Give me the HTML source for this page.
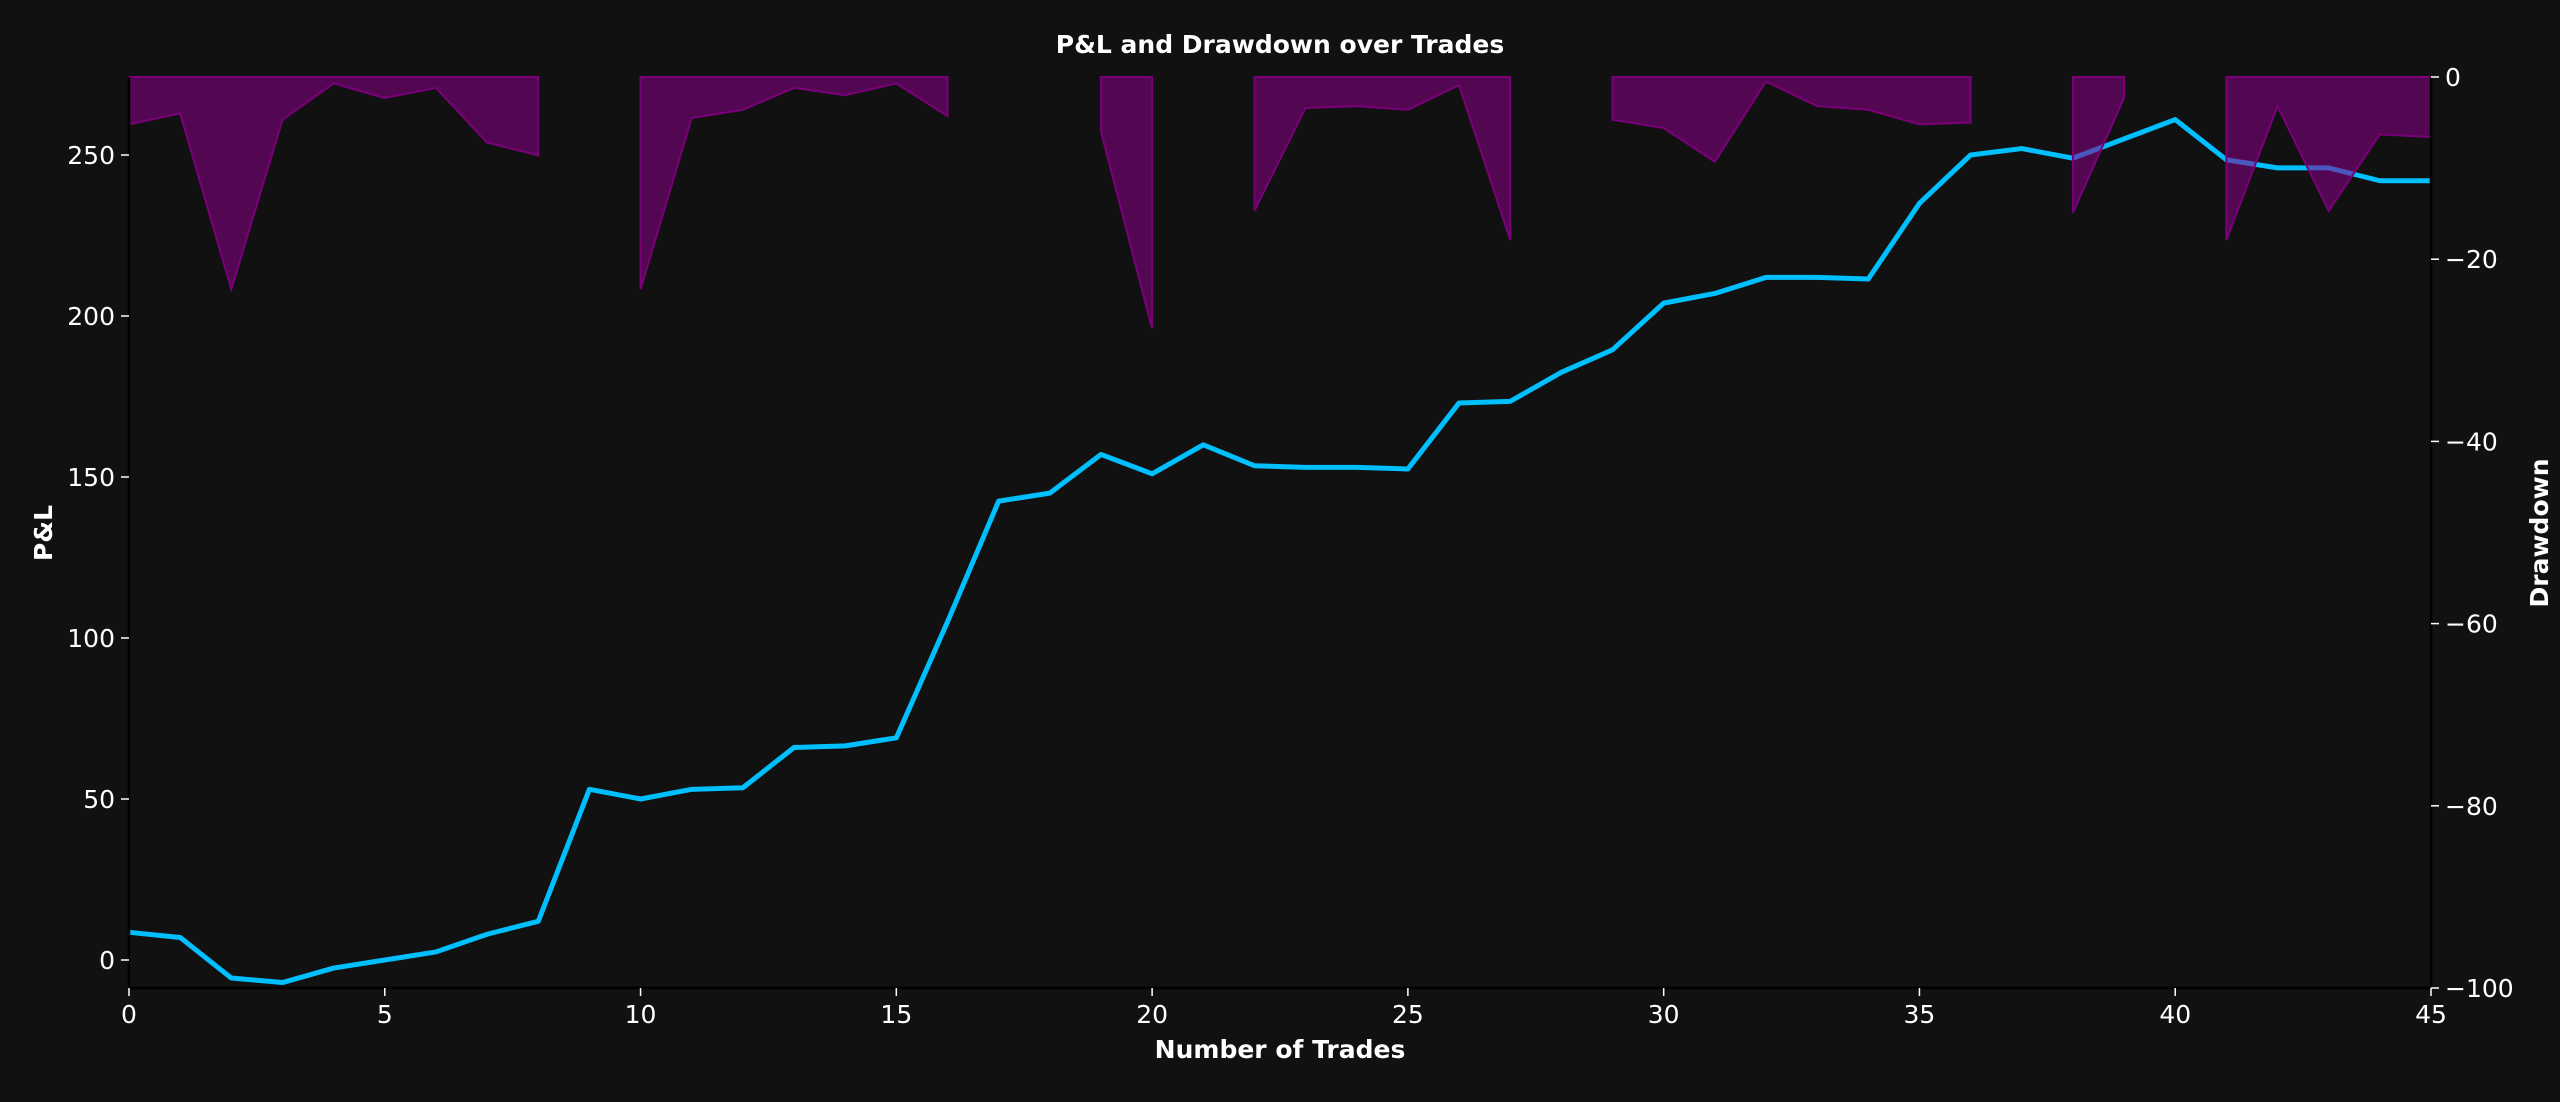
<!DOCTYPE html>
<html><head><meta charset="utf-8"><style>
html,body{margin:0;padding:0;background:#111111;}
svg text{font-family:"DejaVu Sans","Liberation Sans",sans-serif;fill:#ffffff;}
</style></head><body>
<svg id="chart" width="2560" height="1097" viewBox="0 0 2560 1097" xmlns="http://www.w3.org/2000/svg">
<rect width="2560" height="1097" fill="#111111"/>
<g id="dd"></g>
<g id="pnl"></g>
<g id="axes"></g>
<text x="1280" y="53" text-anchor="middle" font-size="25" font-weight="bold">P&amp;L and Drawdown over Trades</text>
<text x="1280" y="1058" text-anchor="middle" font-size="25" font-weight="bold">Number of Trades</text>
<text transform="translate(52,533) rotate(-90)" text-anchor="middle" font-size="25" font-weight="bold">P&amp;L</text>
<text transform="translate(2548,533) rotate(-90)" text-anchor="middle" font-size="25" font-weight="bold">Drawdown</text>
</svg>
<script>
const trades = [0,1,2,3,4,5,6,7,8,9,10,11,12,13,14,15,16,17,18,19,20,21,22,23,24,25,26,27,28,29,30,31,32,33,34,35,36,37,38,39,40,41,42,43,44,45];
const pnlValues = [8.6,7,-5.6,-7,-2.5,0,2.5,8,12,53,50,53,53.5,66,66.5,69,105,142.5,145,157,151,160,153.5,153,153,152.5,173,173.5,182.5,189.5,204,207,212,212,211.5,235,250,252,249,255,261,248.5,246,246,242,242];
const drawdownValues = [-5.2,-4,-23.3,-4.7,-0.7,-2.3,-1.2,-7.2,-8.6,0,-23.3,-4.5,-3.6,-1.2,-2,-0.7,-4.3,0,0,-6,-27.6,0,-14.7,-3.4,-3.2,-3.6,-0.9,-17.9,0,-4.7,-5.6,-9.3,-0.5,-3.2,-3.6,-5.2,-5,0,-14.9,-2.3,0,-17.9,-3.2,-14.7,-6.3,-6.6];
const xTicks = [0,5,10,15,20,25,30,35,40,45];
const yTicks = [0,50,100,150,200,250];
const y2Ticks = [0,-20,-40,-60,-80,-100];

const L=129,R=2431,T=77,B=988;
const X=v=>L+(v-0)/45*(R-L);
const Y=v=>960-v*3.22;
const Y2=v=>T+(-v)/100*(B-T);
const NS="http://www.w3.org/2000/svg";
function mk(tag,attrs,parent){const e=document.createElementNS(NS,tag);for(const k in attrs)e.setAttribute(k,attrs[k]);parent.appendChild(e);return e;}

// drawdown fills (contiguous runs where dd<0)
const ddG=document.getElementById('dd');
let i=0;
while(i<trades.length){
  if(drawdownValues[i]<0){
    let j=i;while(j+1<trades.length&&drawdownValues[j+1]<0)j++;
    let pts=[X(trades[i])+','+Y2(0)];
    for(let k=i;k<=j;k++)pts.push(X(trades[k])+','+Y2(drawdownValues[k]));
    pts.push(X(trades[j])+','+Y2(0));
    const p=mk('polygon',{points:pts.join(' '),fill:'#8a008a','fill-opacity':'0.55',stroke:'#7a007a','stroke-width':'2'},ddG);
    
    
    i=j+1;
  } else i++;
}

// pnl line
const pG=document.getElementById('pnl');
const line=mk('polyline',{points:trades.map((t,k)=>X(t)+','+Y(pnlValues[k])).join(' '),fill:'none',stroke:'#00bfff','stroke-width':'5','stroke-linejoin':'round'},pG);


// move drawdown on top of line
document.getElementById('chart').insertBefore(pG,ddG);

// axes
const aG=document.getElementById('axes');
mk('line',{x1:L,y1:B,x2:R,y2:B,stroke:'#000',"stroke-width":2.5},aG);
mk('line',{x1:L,y1:T,x2:L,y2:B,stroke:'#000',"stroke-width":2.5},aG);
mk('line',{x1:R,y1:T,x2:R,y2:B,stroke:'#000',"stroke-width":2.5},aG);
xTicks.forEach(v=>{
  mk('line',{x1:X(v),y1:B,x2:X(v),y2:B+8,stroke:'#fff','stroke-width':1.5},aG);
  const t=mk('text',{x:X(v),y:B+35,'text-anchor':'middle','font-size':'25'},aG);
  t.textContent=v;
  
  
});
yTicks.forEach(v=>{
  mk('line',{x1:L-8,y1:Y(v),x2:L,y2:Y(v),stroke:'#fff','stroke-width':1.5},aG);
  const t=mk('text',{x:L-14,y:Y(v)+9,'text-anchor':'end','font-size':'25'},aG);
  t.textContent=v;
  
  
});
y2Ticks.forEach(v=>{
  mk('line',{x1:R,y1:Y2(v),x2:R+8,y2:Y2(v),stroke:'#fff','stroke-width':1.5},aG);
  const t=mk('text',{x:R+14,y:Y2(v)+9,'text-anchor':'start','font-size':'25'},aG);
  t.textContent=v===0?'0':'\u2212'+Math.abs(v);
  
  
});
</script>
</body></html>
